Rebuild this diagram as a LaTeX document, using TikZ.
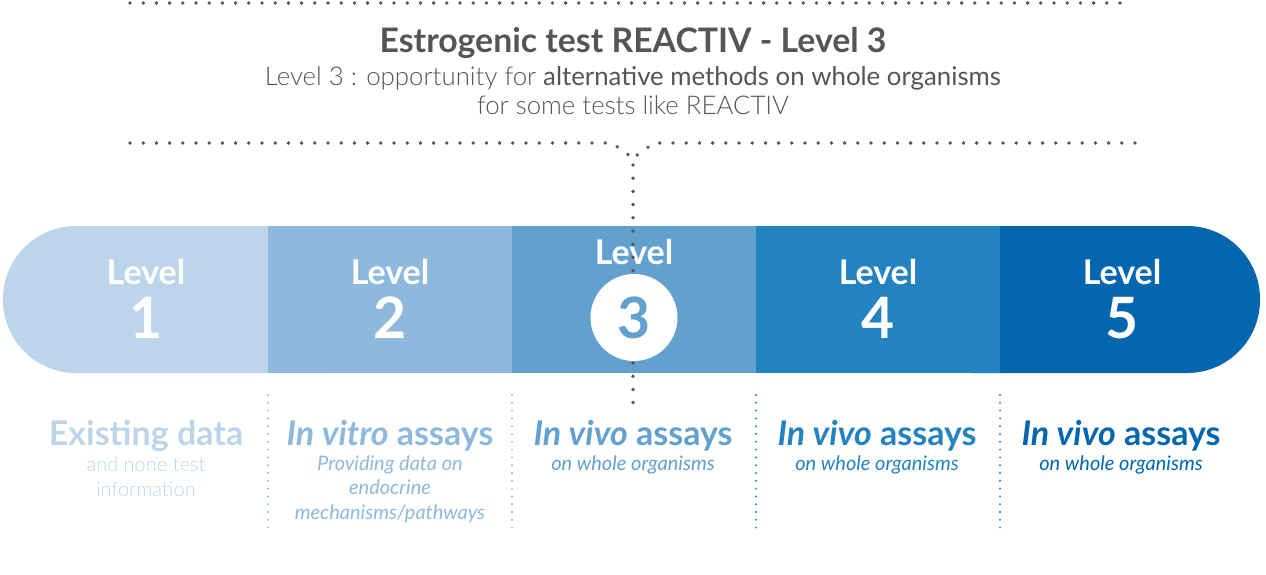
\documentclass[tikz,border=0pt]{standalone}
\usepackage{fontspec}
\setmainfont{Lato}
\newfontfamily\latolight{Lato Light}
\newfontfamily\latoreg{Lato}
\usetikzlibrary{positioning}
\definecolor{lvlA}{HTML}{BDD5EA}
\definecolor{lvlB}{HTML}{8FB8DD}
\definecolor{lvlC}{HTML}{62A0CD}
\definecolor{lvlD}{HTML}{2383C0}
\definecolor{lvlE}{HTML}{0366AE}
\definecolor{ink}{HTML}{555555}

\begin{document}
\begin{tikzpicture}[x=1pt, y=-1pt, node distance=0pt]
    % Define node styles
    \tikzstyle{seg} = [rectangle, minimum width=244pt, minimum height=147pt, inner sep=0pt, outer sep=0pt]
    \tikzstyle{lvl} = [text=white, font=\fontsize{34}{34}\selectfont\bfseries]
    \tikzstyle{num} = [text=white, font=\fontsize{57}{57}\selectfont\bfseries]
    \tikzstyle{head} = [font=\fontsize{34}{36}\selectfont\bfseries]
    \tikzstyle{sub} = [font=\fontsize{20}{24.5}\selectfont\itshape, align=center]
    \tikzstyle{dots} = [ink, line width=3.8pt, line cap=round, dash pattern=on 0pt off 13.2pt]
    \tikzstyle{sep} = [line width=2.2pt, line cap=round, dash pattern=on 0pt off 7.8pt]

    \useasboundingbox (0,0) rectangle (1266,574);

    % Title and subtitle
    \node[text=ink, font=\fontsize{33.8}{36}\selectfont\bfseries] (title) at (633,43) {Estrogenic test REACTIV - Level 3};
    \node[text=ink, font=\fontsize{25.8}{29}\selectfont\latolight, align=center] (subtitle) at (633,91) {Level 3 : opportunity for {\latoreg alternative methods on whole organisms}\\for some tests like REACTIV};

    % Rounded ends of the bar
    \fill[lvlA, rounded corners=73pt] (3,226) rectangle (400,373);
    \fill[lvlE, rounded corners=73pt] (900,226) rectangle (1260,373);

    % Bar segments
    \node[seg] (s1) at (146,299.5) {};
    \node[seg, fill=lvlB, right=of s1] (s2) {};
    \node[seg, fill=lvlC, right=of s2] (s3) {};
    \node[seg, fill=lvlD, right=of s3] (s4) {};
    \node[seg, right=of s4] (s5) {};

    % Level labels
    \node[lvl] (l1) at ([yshift=27.5pt]s1.center) {Level};
    \node[num] (n1) at ([yshift=-18.5pt]s1.center) {1};
    \node[lvl] (l2) at ([yshift=27.5pt]s2.center) {Level};
    \node[num] (n2) at ([yshift=-18.5pt]s2.center) {2};
    \node[lvl] (l3) at ([yshift=47.5pt]s3.center) {Level};
    \node[lvl] (l4) at ([yshift=27.5pt]s4.center) {Level};
    \node[num] (n4) at ([yshift=-18.5pt]s4.center) {4};
    \node[lvl] (l5) at ([yshift=27.5pt]s5.center) {Level};
    \node[num] (n5) at ([yshift=-18.5pt]s5.center) {5};

    % Dotted rules and the pointer to level 3
    \coordinate (topL) at (130,3);
    \coordinate (topR) at (1130,3);
    \coordinate (midL) at (130,143);
    \coordinate (midR) at (1135,143);
    \coordinate (bendL) at (612,143);
    \coordinate (bendR) at (654,143);
    \coordinate (kink) at (633,158);
    \coordinate (foot) at (633,410);
    \draw[dots] (topL) -- (topR);
    \draw[dots] (midL) -- (bendL) -- (kink) -- (foot);
    \draw[dots] (midR) -- (bendR) -- (kink);

    % Highlighted level 3
    \node[circle, fill=white, minimum size=87pt, inner sep=0pt] (c3) at ([yshift=-18pt]s3.center) {};
    \node[num, text=lvlC] (n3) at (c3) {3};

    % Separators below the bar
    \draw[sep, lvlB] ([yshift=-22pt]s1.south east) -- ([yshift=-159pt]s1.south east);
    \draw[sep, lvlB] ([yshift=-22pt]s2.south east) -- ([yshift=-159pt]s2.south east);
    \draw[sep, lvlD] ([yshift=-22pt]s3.south east) -- ([yshift=-159pt]s3.south east);
    \draw[sep, lvlD] ([yshift=-22pt]s4.south east) -- ([yshift=-159pt]s4.south east);

    % Descriptions
    \node[head, text=lvlA] (h1) at (146,436) {Existing data};
    \node[sub, text=lvlA, font=\fontsize{20}{24.5}\selectfont\latolight] (d1) at (146,477) {and none test\\information};
    \node[head, text=lvlB] (h2) at (390,436) {\itshape In vitro\upshape{} assays};
    \node[sub, text=lvlB] (d2) at (390,489) {Providing data on\\endocrine\\mechanisms/pathways};
    \node[head, text=lvlC] (h3) at (633,436) {\itshape In vivo\upshape{} assays};
    \node[sub, text=lvlC] (d3) at (633,465) {on whole organisms};
    \node[head, text=lvlD] (h4) at (877,436) {\itshape In vivo\upshape{} assays};
    \node[sub, text=lvlD] (d4) at (877,465) {on whole organisms};
    \node[head, text=lvlE] (h5) at (1121,436) {\itshape In vivo\upshape{} assays};
    \node[sub, text=lvlE] (d5) at (1121,465) {on whole organisms};
\end{tikzpicture}
\end{document}
